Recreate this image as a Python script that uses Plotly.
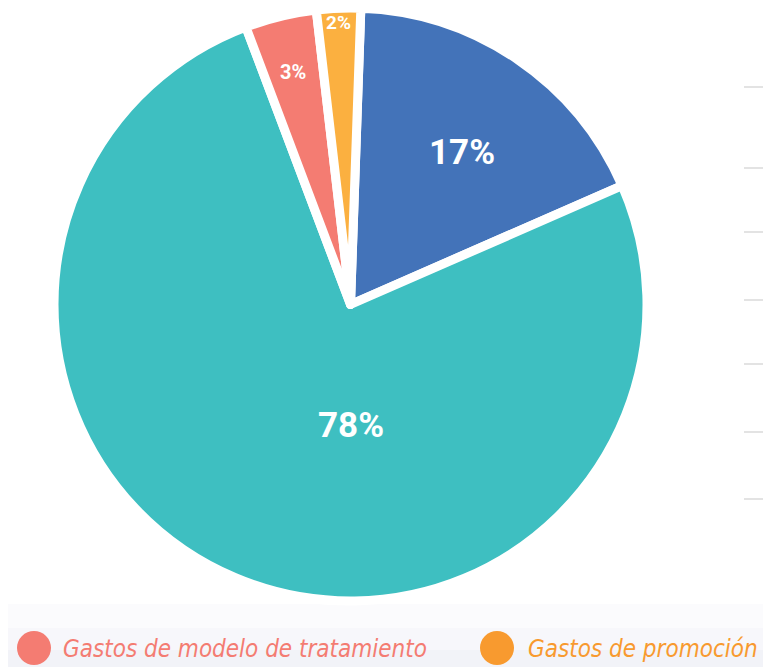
import plotly.graph_objects as go

categories = ["Gastos de personal", "Gastos de operación",
              "Gastos de modelo de tratamiento", "Gastos de promoción"]
shares = [17.9, 75.9, 3.9, 2.4]
slice_text = ["17%", "78%", "3%", "2%"]
slice_colors = ["#4373B9", "#3EBFC1", "#F47C72", "#FBB040"]

legend_names = ["Gastos de modelo de tratamiento", "Gastos de promoción"]
legend_colors = ["#F47C72", "#F89A2F"]

# page body has an 8px margin, so the figure is sized to the visible area
OFF = 8
W, H = 771 - OFF, 667 - OFF


def px(x, y):
    """screen pixel -> paper coords"""
    return (x - OFF) / W, 1 - (y - OFF) / H


fig = go.Figure()
fig.add_trace(go.Pie(
    labels=categories, values=shares,
    textinfo="none", sort=False, direction="clockwise", rotation=2,
    marker=dict(colors=slice_colors, line=dict(color="white", width=9)),
    hoverinfo="label+percent", showlegend=False,
    domain=dict(x=[px(54, 0)[0], px(647, 0)[0]],
                y=[px(0, 601)[1], 1]),
))

annotations = []
# slice labels
for txt, (lx, ly), size in zip(slice_text,
                               [(462, 153), (351, 425), (293, 72), (338, 23)],
                               [35, 35, 20, 19]):
    x, y = px(lx, ly)
    annotations.append(dict(text=txt, x=x, y=y, xref="paper", yref="paper",
                            showarrow=False, xanchor="center", yanchor="middle",
                            font=dict(family="Roboto", size=size, color="white",
                                      weight="bold")))

shapes = []
# faint bottom band
for y0, col in [(604, "#fbfbfd"), (628, "#f7f7fb"), (650, "#f2f3f8")]:
    shapes.append(dict(type="rect", xref="paper", yref="paper", x0=0, x1=1,
                       y0=0, y1=px(0, y0)[1], fillcolor=col, line_width=0,
                       layer="below"))

# leftover grid ticks on the right edge
for y in [87, 168, 232, 300, 364, 432, 499]:
    shapes.append(dict(type="line", xref="paper", yref="paper",
                       x0=px(744, 0)[0], x1=1, y0=px(0, y)[1], y1=px(0, y)[1],
                       line=dict(color="#e3e3e3", width=2)))
for y in [143, 209, 275, 343, 410, 475, 542]:
    shapes.append(dict(type="line", xref="paper", yref="paper",
                       x0=px(768, 0)[0], x1=px(770, 0)[0],
                       y0=px(0, y)[1], y1=px(0, y)[1],
                       line=dict(color="#cfcfcf", width=2)))

# legend dots and labels
for name, col, cx, tx in zip(legend_names, legend_colors, [34, 497], [61, 526]):
    shapes.append(dict(type="circle", xref="paper", yref="paper",
                       x0=px(cx - 17, 0)[0], x1=px(cx + 17, 0)[0],
                       y0=px(0, 665)[1], y1=px(0, 631)[1],
                       fillcolor=col, line_width=0))
    x, y = px(tx, 649)
    annotations.append(dict(text=name, xref="paper", yref="paper",
                            x=x, y=y, xanchor="left", yanchor="middle",
                            showarrow=False,
                            font=dict(family="DejaVu Sans Condensed, Roboto",
                                      size=24, color=col, style="italic")))

fig.update_layout(
    width=W, height=H, margin=dict(l=0, r=0, t=0, b=0),
    paper_bgcolor="white", plot_bgcolor="white",
    shapes=shapes, annotations=annotations,
)

fig.write_html("out.html")
